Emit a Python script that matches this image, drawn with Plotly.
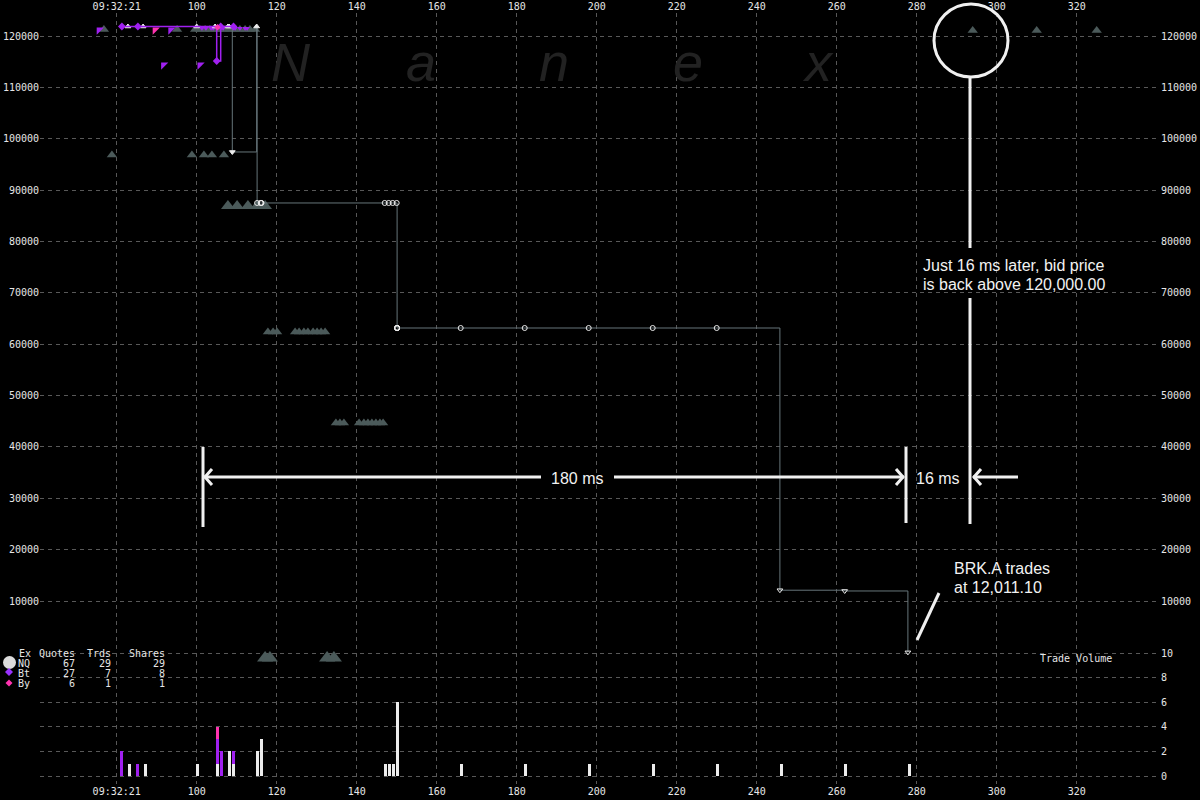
import plotly.graph_objects as go

# ---------------- data ----------------
# time axis (ms after 09:32:21.000)
x_tick_vals = [80, 100, 120, 140, 160, 180, 200, 220, 240, 260, 280, 300, 320]
x_tick_text = ["09:32:21", "100", "120", "140", "160", "180", "200", "220", "240",
               "260", "280", "300", "320"]
price_ticks = [10000, 20000, 30000, 40000, 50000, 60000, 70000, 80000, 90000,
               100000, 110000, 120000]
vol_ticks = [0, 2, 4, 6, 8, 10]

# NQ quotes (gray triangles)
quote_t = [76.8, 95.1, 99.6, 100.8, 102.1, 103.3, 104.6, 105.8, 107.1, 108.3, 109.6,
           110.8, 112.1, 113.3, 114.6,
           78.8, 98.8, 101.8, 103.8, 106.8,
           117.8, 119.1, 120.1, 124.6, 125.6, 126.8, 127.8, 129.1, 130.1, 131.1, 132.1,
           134.8, 135.8, 136.8, 140.6, 141.8, 142.8, 143.8, 144.8, 145.8, 146.6,
           294.0, 310.0, 325.0]
quote_p = [121265] * 15 + [96830] * 5 + [62370] * 11 + [44650] * 10 + [121070] * 3

quote_big_t = [107.8, 110.1, 112.8, 115.1, 117.1]
quote_big_p = [86900, 86900, 86900, 86900, 86900]

quote_low_t = [117.1, 118.3, 132.6, 134.3]
quote_low_p = [-1100, -1100, -1100, -1100]

# Bt / By quotes (flags)
bt_quote_t = [75.6, 91.7, 93.5, 100.8]
bt_quote_p = [121170, 114350, 121170, 114350]
bt_small_t = [101.3, 102.3, 103.6, 104.1, 106.6, 109.6, 110.8, 112.1, 112.6]
bt_small_p = [121500] * 9
by_quote_t = [89.6]
by_quote_p = [121170]

# trades (price)
nq_trade_t = [82.8, 86.6, 100.0, 104.6, 107.8, 108.1, 108.9, 115.0, 115.1, 116.0, 116.1,
              116.2, 147.0, 148.0, 149.0, 150.0, 150.1, 150.1, 150.1, 150.1, 150.1,
              166.0, 182.0, 198.0, 214.0, 230.0, 245.8, 262.0, 277.8]
nq_trade_p = [121850, 121850, 121850, 121850, 121850, 121850, 97420, 121850, 87490, 87490,
              87490, 87490, 87490, 87490, 87490, 87490, 63150, 63150, 63150, 63150, 63150,
              63150, 63150, 63150, 63150, 63150, 12100, 11950, 0]
bt_trade_t = [81.3, 85.3, 105.0, 106.0, 109.2]
bt_trade_p = [121850, 121850, 115130, 121850, 121850]
by_trade_t = [105.2]
by_trade_p = [121700]

# trade volume
nq_vol_t = [83.2, 87.2, 100.2, 105.2, 108.2, 109.2, 115.2, 116.2, 147.2, 148.2, 149.2,
            150.2, 166.1, 182.1, 198.1, 214.1, 230.1, 246.1, 262.1, 278.1]
nq_vol = [1, 1, 1, 1, 2, 1, 2, 3, 1, 1, 1, 6, 1, 1, 1, 1, 1, 1, 1, 1]
bt_vol_t = [81.2, 85.2, 105.2, 106.2, 109.2]
bt_vol = [2, 1, 2, 2, 1]
by_vol_t = [105.2]
by_vol = [1]

# exchange summary table
ex_names = ["NQ", "Bt", "By"]
ex_quotes = [67, 27, 6]
ex_trds = [29, 7, 1]
ex_shares = [29, 8, 1]

# ---------------- layout geometry ----------------
W, H = 1200, 800
L, R, T, B = 40, 1160, 13, 784
PX_PER_MS = 4.0
T80_PX = 116.7
PRICE_PPU = (601 - 36) / 110000.0
PRICE_ZERO_PX = 36 + 120000 * PRICE_PPU
VOL_PPU = (776 - 653) / 10.0
VOL_ZERO_PX = 776

x_range = [80 - (T80_PX - L) / PX_PER_MS, 80 + (R - T80_PX) / PX_PER_MS]
p_range = [-(B - PRICE_ZERO_PX) / PRICE_PPU, (PRICE_ZERO_PX - T) / PRICE_PPU]
v_range = [-(B - VOL_ZERO_PX) / VOL_PPU, (VOL_ZERO_PX - T) / VOL_PPU]


def PX(x):
    return (x - L) / (R - L)


def PY(y):
    return (B - y) / (B - T)


GRAY_TRI = "#4b5a5a"
LINE_GRAY = "#66757a"
WHITE = "#ececec"
PURPLE = "#a020f0"
PINK = "#ff33b0"
GRID = "#585858"
MONO = "DejaVu Sans Mono"
SANS = "Liberation Sans, Arial, sans-serif"

fig = go.Figure()

# quotes
fig.add_trace(go.Scatter(x=quote_t, y=quote_p, mode="markers",
                         marker=dict(symbol="triangle-up", size=9, color=GRAY_TRI),
                         hoverinfo="skip"))
fig.add_trace(go.Scatter(x=quote_big_t, y=quote_big_p, mode="markers",
                         marker=dict(symbol="triangle-up", size=12, color=GRAY_TRI),
                         hoverinfo="skip"))
fig.add_trace(go.Scatter(x=quote_low_t, y=quote_low_p, mode="markers",
                         marker=dict(symbol="triangle-up", size=14, color=GRAY_TRI),
                         hoverinfo="skip", cliponaxis=False))
fig.add_trace(go.Scatter(x=bt_quote_t, y=bt_quote_p, mode="markers",
                         marker=dict(symbol="triangle-nw", size=8, color=PURPLE),
                         hoverinfo="skip"))
fig.add_trace(go.Scatter(x=bt_small_t, y=bt_small_p, mode="markers",
                         marker=dict(symbol="triangle-down", size=5, color=PURPLE),
                         hoverinfo="skip"))
fig.add_trace(go.Scatter(x=by_quote_t, y=by_quote_p, mode="markers",
                         marker=dict(symbol="triangle-nw", size=8, color=PINK),
                         hoverinfo="skip"))


# trades
def nq_symbol(p):
    if p > 110000:
        return "triangle-up"
    if p > 90000:
        return "triangle-down"
    if p > 30000:
        return "circle-open"
    return "triangle-down-open"


fig.add_trace(go.Scatter(x=nq_trade_t, y=nq_trade_p, mode="lines+markers",
                         line=dict(color=LINE_GRAY, width=1, shape="hv"),
                         marker=dict(symbol=[nq_symbol(p) for p in nq_trade_p],
                                     size=5, color=WHITE, line=dict(color=WHITE, width=1)),
                         hoverinfo="skip"))
fig.add_trace(go.Scatter(x=bt_trade_t, y=bt_trade_p, mode="lines+markers",
                         line=dict(color=PURPLE, width=1.5, shape="hv"),
                         marker=dict(symbol="diamond", size=6, color=PURPLE),
                         hoverinfo="skip"))
fig.add_trace(go.Scatter(x=by_trade_t, y=by_trade_p, mode="markers",
                         marker=dict(symbol="diamond", size=5, color=PINK),
                         hoverinfo="skip"))

# volume bars
fig.add_trace(go.Bar(x=nq_vol_t, y=nq_vol, width=0.8, marker=dict(color=WHITE, line=dict(width=0)),
                     yaxis="y2", hoverinfo="skip"))
fig.add_trace(go.Bar(x=bt_vol_t, y=bt_vol, width=0.8, marker=dict(color=PURPLE, line=dict(width=0)),
                     yaxis="y2", hoverinfo="skip"))
fig.add_trace(go.Bar(x=by_vol_t, y=by_vol, width=0.8, marker=dict(color=PINK, line=dict(width=0)),
                     yaxis="y2", hoverinfo="skip"))

# dummy traces so the mirrored axes are drawn
fig.add_trace(go.Scatter(x=[None], y=[None], xaxis="x2", yaxis="y", hoverinfo="skip"))
fig.add_trace(go.Scatter(x=[None], y=[None], xaxis="x", yaxis="y3", hoverinfo="skip"))

tickfont = dict(family=MONO, size=10, color="#e6e6e6")
common = dict(automargin=False, zeroline=False, showline=False, ticks="", tickfont=tickfont,
              tickmode="array")

fig.update_layout(
    width=W, height=H,
    margin=dict(l=L, r=W - R, t=T, b=H - B, pad=0, autoexpand=False),
    paper_bgcolor="black", plot_bgcolor="black",
    showlegend=False, barmode="relative", bargap=0,
    xaxis=dict(range=x_range, tickvals=x_tick_vals, ticktext=x_tick_text,
               showgrid=True, gridcolor=GRID, griddash="4px,4px", gridwidth=1,
               side="bottom", **common),
    xaxis2=dict(range=x_range, overlaying="x", anchor="y", side="top",
                tickvals=x_tick_vals, ticktext=x_tick_text, showgrid=False, **common),
    yaxis=dict(range=p_range, tickvals=price_ticks,
               ticktext=[str(v) for v in price_ticks], showgrid=True, gridcolor=GRID,
               griddash="4px,4px", side="left", **common),
    yaxis3=dict(range=p_range, overlaying="y", anchor="x", side="right",
                tickvals=price_ticks, ticktext=[str(v) for v in price_ticks], showgrid=False,
                **common),
    yaxis2=dict(range=v_range, overlaying="y", anchor="x", side="right",
                tickvals=vol_ticks, ticktext=[str(v) for v in vol_ticks], showgrid=True,
                gridcolor=GRID, griddash="4px,4px", **common),
)

ann = []
shapes = []

# Nanex watermark
for letter, cx in zip(["N", "a", "n", "e", "x"], [291, 421, 554, 688, 818]):
    ann.append(dict(text="<i>%s</i>" % letter, xref="paper", yref="paper", x=PX(cx),
                    y=PY(62), xanchor="center", yanchor="middle", showarrow=False,
                    font=dict(family=SANS, size=54, color="#222222")))

# exchange table
hdr_y = 653
row_y = [663, 673, 683]
tf = dict(family=MONO, size=10, color="#e6e6e6")
ann.append(dict(text="Ex", x=PX(17), y=PY(hdr_y), xanchor="left"))
ann.append(dict(text="Quotes", x=PX(77), y=PY(hdr_y), xanchor="right"))
ann.append(dict(text="Trds", x=PX(113), y=PY(hdr_y), xanchor="right"))
ann.append(dict(text="Shares", x=PX(167), y=PY(hdr_y), xanchor="right"))
for name, q, tr, sh, yy in zip(ex_names, ex_quotes, ex_trds, ex_shares, row_y):
    ann.append(dict(text=name, x=PX(16), y=PY(yy), xanchor="left"))
    ann.append(dict(text=str(q), x=PX(77), y=PY(yy), xanchor="right"))
    ann.append(dict(text=str(tr), x=PX(113), y=PY(yy), xanchor="right"))
    ann.append(dict(text=str(sh), x=PX(167), y=PY(yy), xanchor="right"))
for a in ann[5:]:
    a.update(xref="paper", yref="paper", yanchor="middle", showarrow=False, font=tf)

# legend symbols
shapes.append(dict(type="circle", xref="paper", yref="paper", x0=PX(3), x1=PX(16),
                   y0=PY(669), y1=PY(656), fillcolor="#dcdcdc", line=dict(width=0)))
for cy, hs, col in [(672, 4, "#9932ff"), (683, 3.5, PINK)]:
    cx = 9
    path = "M %f %f L %f %f L %f %f L %f %f Z" % (
        PX(cx), PY(cy - hs), PX(cx + hs), PY(cy), PX(cx), PY(cy + hs), PX(cx - hs), PY(cy))
    shapes.append(dict(type="path", xref="paper", yref="paper", path=path,
                       fillcolor=col, line=dict(width=0)))

ann.append(dict(text="Trade Volume", x=PX(1038), y=PY(658), xref="paper", yref="paper",
                xanchor="left", yanchor="middle", showarrow=False, font=tf))

# commentary
cf = dict(family=SANS, size=16, color="#f2f2f2")
for txt, x, y, xa in [("Just 16 ms later, bid price", 921, 265, "left"),
                      ("is back above 120,000.00", 921, 284, "left"),
                      ("180 ms", 577, 478, "center"),
                      ("16 ms", 938, 478, "center"),
                      ("BRK.A trades", 952, 568, "left"),
                      ("at 12,011.10", 952, 587, "left")]:
    ann.append(dict(text=txt, x=PX(x), y=PY(y), xref="paper", yref="paper", xanchor=xa,
                    yanchor="middle", showarrow=False, font=cf))

LW = dict(color="#f0f0f0", width=3)


def seg(x0, y0, x1, y1, w=3):
    shapes.append(dict(type="line", xref="paper", yref="paper", x0=PX(x0), y0=PY(y0),
                       x1=PX(x1), y1=PY(y1), line=dict(color="#f0f0f0", width=w)))


def chevron(tx, ty, direction):
    d = 7 * direction
    path = "M %f %f L %f %f L %f %f" % (PX(tx + d), PY(ty - 8), PX(tx), PY(ty),
                                        PX(tx + d), PY(ty + 8))
    shapes.append(dict(type="path", xref="paper", yref="paper", path=path, line=LW))


seg(203, 447, 203, 527)
seg(906, 447, 906, 523)
seg(204, 477, 541, 477)
seg(614, 477, 904, 477)
chevron(205, 477, 1)
chevron(903, 477, -1)
seg(973, 477, 1018, 477)
chevron(974, 477, 1)
seg(970, 77, 970, 248)
seg(970, 298, 970, 524)
shapes.append(dict(type="circle", xref="paper", yref="paper", x0=PX(934), x1=PX(1008),
                   y0=PY(77), y1=PY(4), line=dict(color="#f0f0f0", width=3)))
seg(917, 640, 939, 593)

fig.update_layout(annotations=ann, shapes=shapes)

fig.write_html("out.html")
